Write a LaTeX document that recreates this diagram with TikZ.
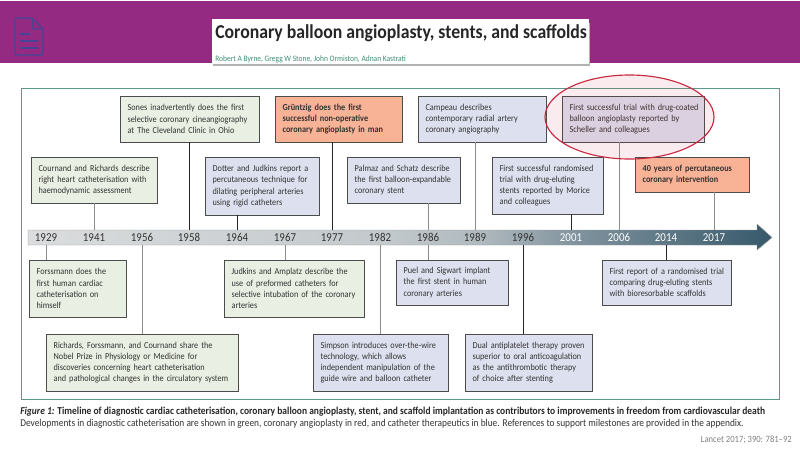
\documentclass[tikz,border=0pt]{standalone}
\usepackage{fontspec}
\setmainfont[FakeStretch=0.9]{Carlito}
\usepackage{xcolor}
\usetikzlibrary{arrows.meta, positioning, shapes.geometric, calc}

\definecolor{bandpurple}{HTML}{952A82}
\definecolor{iconblue}{HTML}{454595}
\definecolor{authorgreen}{HTML}{3E8E72}
\definecolor{framegreen}{HTML}{5B9A88}
\definecolor{diagfill}{HTML}{E9EFE2}
\definecolor{angiofill}{HTML}{F8B296}
\definecolor{therafill}{HTML}{DDE1EF}
\definecolor{barlight}{HTML}{DADCDD}
\definecolor{barmid}{HTML}{C3C9CC}
\definecolor{barmidb}{HTML}{AFB9BE}
\definecolor{barmidc}{HTML}{7F929D}
\definecolor{bardark}{HTML}{36596B}
\definecolor{circlered}{HTML}{C8283F}
\definecolor{inktext}{HTML}{333333}

\pgfdeclarehorizontalshading{axisshade}{100bp}{color(0bp)=(barlight); color(25bp)=(barlight); color(49bp)=(barmid); color(55.5bp)=(barmidb); color(62bp)=(barmidc); color(75bp)=(bardark); color(100bp)=(bardark)}

\tikzset{
  boxsize/.style 2 args={text width=#1*0.025cm-0.38cm, minimum height=#2*0.025cm},
  milestone/.style={draw=black!70, line width=0.5pt, inner xsep=0.19cm, inner ysep=0pt, align=left,
    text=inktext, font=\fontsize{6.5}{8}\selectfont},
  diagbox/.style={milestone, fill=diagfill},
  angiobox/.style={milestone, fill=angiofill, font=\fontsize{6.5}{8}\selectfont\bfseries},
  therabox/.style={milestone, fill=therafill},
  yearlabel/.style={inner sep=0pt, minimum height=0.375cm, minimum width=0.5cm, font=\fontsize{8.6}{9}\selectfont},
  darklink/.style={draw=black!85, line width=0.5pt},
  greylink/.style={draw=black!45, line width=0.5pt},
}

\begin{document}
\begin{tikzpicture}[x=0.025cm, y=-0.025cm]
\useasboundingbox (0,0) rectangle (800,450);

% header
\fill[bandpurple] (0,1) rectangle (800,63);
\draw[iconblue, line width=0.8pt, rounded corners=1.5pt] (15,18) -- (32,18) -- (43,29) -- (43,55) -- (15,55) -- cycle;
\draw[iconblue, line width=0.8pt] (32,18) -- (33,29) -- (43,29);
\draw[iconblue, line width=0.8pt] (20,34) -- (30,34) (20,41) -- (38,41) (20,48) -- (38,48);
\fill[black!30] (213,23) rectangle (590,65.5);
\node[fill=white, minimum width=9.425cm, minimum height=1.125cm, inner sep=0pt] (titlebox) at (400.5,41.5) {};
\node[anchor=west, inner sep=0pt, text=black!85, font=\fontsize{14}{16}\selectfont\bfseries] (title) at (215,33.5) {Coronary balloon angioplasty, stents, and scaffolds};
\node[anchor=west, inner sep=0pt, text=authorgreen, font=\fontsize{5.9}{6}\selectfont] (authors) at (215,59.5) {Robert A Byrne, Gregg W Stone, John Ormiston, Adnan Kastrati};

% frame
\draw[framegreen, line width=0.7pt] (21,88) rectangle (779,399);

% time axis
\shade[shading=axisshade, draw=black!40, line width=0.3pt]
  (28,230) -- (757,230) -- (757,224) -- (772,237.5) -- (757,250) -- (757,245) -- (28,245) -- cycle;
\foreach \yr/\xx in {1929/46,1941/94,1956/142,1958/189,1964/237,1967/285,1977/332,1982/380,1986/428,1989/475,1996/523}
  \node[yearlabel, text=inktext] (y\yr) at (\xx,237.5) {\yr};
\foreach \yr/\xx in {2001/571,2006/619,2014/666,2017/714}
  \node[yearlabel, text=white] (y\yr) at (\xx,237.5) {\yr};

% upper milestones
\node[diagbox, boxsize={139}{46}] (sones) at (189.5,119) {Sones inadvertently does the first\\selective coronary cineangiography\\at The Cleveland Clinic in Ohio};
\node[angiobox, boxsize={127}{46}] (gruntzig) at (338.5,119) {Grüntzig does the first\\successful non-operative\\coronary angioplasty in man};
\node[diagbox, boxsize={126}{46}] (cournand) at (94,180) {\mbox{Cournand and Richards describe}\\right heart catheterisation with\\haemodynamic assessment};
\node[therabox, boxsize={114}{58}] (dotter) at (262,186) {Dotter and Judkins report a\\percutaneous technique for\\dilating peripheral arteries\\using rigid catheters};
\node[therabox, boxsize={113}{46}] (palmaz) at (403.5,180) {Palmaz and Schatz describe\\the first balloon-expandable\\coronary stent};
\node[therabox, boxsize={128}{46}] (campeau) at (482,119) {Campeau describes\\contemporary radial artery\\coronary angiography};
\node[therabox, boxsize={142}{46}] (scheller) at (633,119) {\mbox{First successful trial with drug-coated}\\balloon angioplasty reported by\\Scheller and colleagues};
\node[therabox, boxsize={111}{57}] (morice) at (547.5,185.5) {First successful randomised\\trial with drug-eluting\\stents reported by Morice\\and colleagues};
\node[angiobox, boxsize={114}{35}] (forty) at (692,174.5) {40 years of percutaneous\\coronary intervention};

% lower milestones
\node[diagbox, boxsize={97}{57}] (forssmann) at (77.5,288.5) {Forssmann does the\\first human cardiac\\catheterisation on\\himself};
\node[diagbox, boxsize={140}{57}] (judkins) at (294,288.5) {Judkins and Amplatz describe the\\use of preformed catheters for\\selective intubation of the coronary\\arteries};
\node[therabox, boxsize={112}{45}] (puel) at (452,282.5) {Puel and Sigwart implant\\the first stent in human\\coronary arteries};
\node[therabox, boxsize={129}{45}] (report) at (666.5,282.5) {\mbox{First report of a randomised trial}\\comparing drug-eluting stents\\with bioresorbable scaffolds};
\node[diagbox, boxsize={192}{57}] (nobel) at (142,362.5) {Richards, Forssmann, and Cournand share the\\Nobel Prize in Physiology or Medicine for\\discoveries concerning heart catheterisation\\and pathological changes in the circulatory system};
\node[therabox, boxsize={135}{57}] (simpson) at (380.5,362.5) {Simpson introduces over-the-wire\\technology, which allows\\independent manipulation of the\\guide wire and balloon catheter};
\node[therabox, boxsize={127}{57}] (dapt) at (528.5,362.5) {\mbox{Dual antiplatelet therapy proven}\\superior to oral anticoagulation\\as the antithrombotic therapy\\of choice after stenting};

% links to the axis
\draw[greylink] (cournand.south -| y1941) -- (y1941.north);
\draw[darklink] (sones.south -| y1958) -- (y1958.north);
\draw[darklink] (dotter.south -| y1964) -- (y1964.north);
\draw[darklink] (gruntzig.south -| y1977) -- (y1977.north);
\draw[greylink] (palmaz.south -| y1986) -- (y1986.north);
\draw[greylink] (campeau.south -| y1989) -- (y1989.north);
\draw[darklink] (morice.south -| y2001) -- (y2001.north);
\draw[greylink] (scheller.south -| y2006) -- (y2006.north);
\draw[greylink] (forty.south -| y2017) -- (y2017.north);
\draw[greylink] (y1929.south) -- (forssmann.north -| y1929);
\draw[greylink] (y1956.south) -- (nobel.north -| y1956);
\draw[greylink] (y1967.south) -- (judkins.north -| y1967);
\draw[greylink] (y1982.south) -- (simpson.north -| y1982);
\draw[greylink] (y1986.south) -- (puel.north -| y1986);
\draw[darklink] (y1996.south) -- (dapt.north -| y1996);
\draw[darklink] (y2014.south) -- (report.north -| y2014);

% highlight
\draw[circlered, fill=circlered, fill opacity=0.09, line width=0.8pt] (629.5,117) ellipse [x radius=84.5, y radius=42];

% caption
\node[anchor=west, inner sep=0pt, text=black!85, font=\fontsize{7.5}{9}\selectfont] (caption) at (20,412) {\textbf{\textit{Figure 1:} Timeline of diagnostic cardiac catheterisation, coronary balloon angioplasty, stent, and scaffold implantation as contributors to improvements in freedom from cardiovascular death}};
\node[anchor=west, inner sep=0pt, text=black!80, font=\fontsize{7.4}{9}\selectfont] (captionb) at (20,424) {Developments in diagnostic catheterisation are shown in green, coronary angioplasty in red, and catheter therapeutics in blue. References to support milestones are provided in the appendix.};
\node[anchor=east, inner sep=0pt, text=black!50, font=\fontsize{6.8}{8}\selectfont] (source) at (792,440) {Lancet 2017; 390: 781--92};
\end{tikzpicture}
\end{document}
